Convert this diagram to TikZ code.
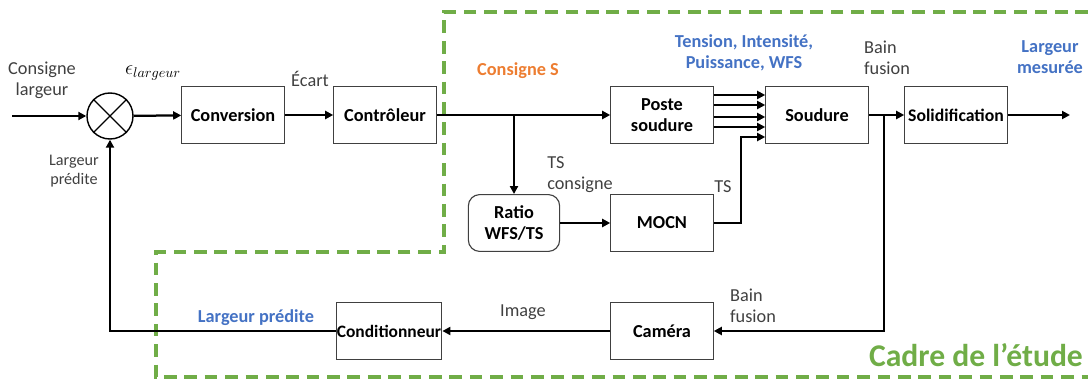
\documentclass[tikz,border=0pt]{standalone}
\usepackage{fontspec}
\setmainfont{Carlito}
\usetikzlibrary{arrows.meta}
\definecolor{vert}{RGB}{112,173,71}
\definecolor{bleu}{RGB}{68,114,196}
\definecolor{orangeS}{RGB}{237,125,49}
\begin{document}
\begin{tikzpicture}[x=0.025cm,y=-0.025cm,
	bloc/.style={draw=black!75,line width=0.8pt,minimum width=2.56cm,minimum height=1.42cm,
		inner sep=1pt,align=center,font=\fontsize{13}{15}\selectfont\bfseries},
	fl/.style={line width=1.6pt,-{Triangle[length=2mm,width=2mm]}},
	lbl/.style={align=center,text=black!75,font=\fontsize{13}{15}\selectfont},
	lblb/.style={align=center,text=bleu,font=\fontsize{13}{15}\selectfont\bfseries}]
\useasboundingbox (0,0) rectangle (1088,381);
% cadre de l'etude
\draw[vert,line width=2.8pt,dash pattern=on 9pt off 5.5pt]
	(1088,12) -- (444,12) -- (444,252) -- (156,252) -- (156,377) -- (1088,377);
\node[font=\fontsize{22.5}{24}\selectfont\bfseries,text=vert] (cadre) at (976,355) {Cadre de l’étude};

% comparateur
\node[circle,draw,line width=1pt,minimum size=1.15cm] (s) at (110,116) {};
\draw[line width=1pt] (s.45) -- (s.225) (s.135) -- (s.-45);

% blocs
\node[bloc] (conv) at (233,115) {Conversion};
\node[bloc] (ctrl) at (385,115) {Contrôleur};
\node[bloc] (poste) at (662,115) {Poste\\soudure};
\node[bloc,rounded corners=8pt,minimum width=2.28cm] (ratio) at (514,223) {Ratio\\WFS/TS};
\node[bloc] (mocn) at (662,223) {MOCN};
\node[bloc] (soud) at (817,115) {Soudure};
\node[bloc,font=\fontsize{12.6}{15}\selectfont\bfseries] (solid) at (956,115) {Solidification};
\node[bloc] (cam) at (662,331) {Caméra};
\node[bloc,font=\fontsize{12.4}{15}\selectfont\bfseries,inner sep=0.5pt] (cond) at (389,331) {Conditionneur};

\coordinate (in) at (12,116);
\coordinate (out) at (1070,115);
\coordinate (b1) at (514,115);
\coordinate (b2) at (884,115);

% liaisons
\draw[fl] (in) -- (s);
\draw[fl] (s) -- (conv);
\draw[fl] (conv) -- (ctrl);
\draw[fl] (ctrl) -- (poste);
\draw[fl] (b1) -- (ratio);
\draw[fl] (ratio) -- (mocn);
\foreach \d in {0.5,0.25,-0.05,-0.3}
	\draw[fl,line width=1.3pt] ([yshift=\d cm]poste.east) -- ([yshift=\d cm]soud.west);
\draw[fl,line width=1.3pt] (mocn.east) -- ++(27,0) |- ([yshift=-0.55cm]soud.west);
\draw[fl] (soud) -- (solid);
\draw[fl] (solid) -- (out);
\draw[fl] (b2) |- (cam);
\draw[fl] (cam) -- (cond);
\draw[fl] (cond) -| (s);

% etiquettes
\node[lbl] (cl) at (42,80) {Consigne\\largeur};
\node[font=\fontsize{14}{16}\selectfont] (eps) at (153,73) {$\epsilon_{largeur}$};
\node[lbl] (ec) at (310,79) {Écart};
\node[lbl,text=orangeS,font=\fontsize{13}{15}\selectfont\bfseries] (cs) at (518,71) {Consigne S};
\node[lblb] (tens) at (744,53) {Tension, Intensité,\\Puissance, WFS};
\node[lbl,align=left] (bf1) at (887,58) {Bain\\fusion};
\node[lblb] (lm) at (1050,57) {Largeur\\mesurée};
\node[lbl,align=left] (tsc) at (580,175) {TS\\consigne};
\node[lbl] (ts) at (723,187) {TS};
\node[lbl,align=left] (bf2) at (753,306) {Bain\\fusion};
\node[lbl] (img) at (523,312) {Image};
\node[lblb] (lp) at (256,318) {Largeur prédite};
\node[lbl,font=\fontsize{11.5}{13}\selectfont] (lp2) at (74,171) {Largeur\\prédite};
\end{tikzpicture}
\end{document}
